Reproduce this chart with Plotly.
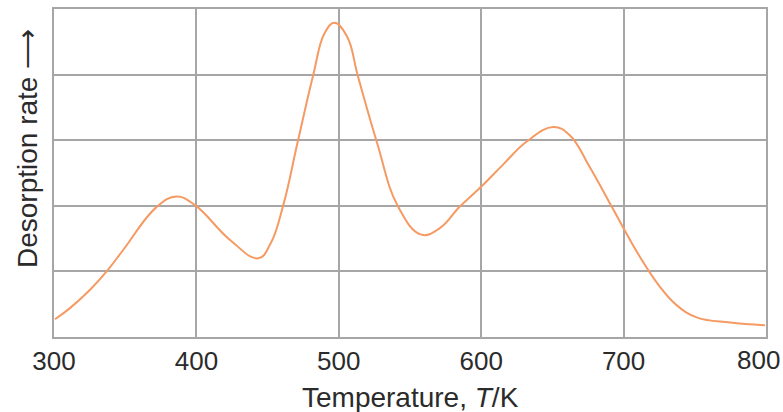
import plotly.graph_objects as go

temperature_K = [300.7, 311.2, 325.3, 337, 348.7, 372, 386, 399, 423.6, 443.5,
                 452, 461, 471, 482, 490, 497, 505.8, 513.5, 526.6, 541.6, 558, 571, 585, 599,
                 615, 632, 650.6, 662, 676, 691.6, 711.5, 725, 737, 751.3, 774.7, 799.3]
desorption_rate = [0.27, 0.44, 0.72, 1.0, 1.33, 1.98, 2.14, 2.01, 1.48, 1.2,
                   1.42, 2.01, 2.96, 3.99, 4.63, 4.79, 4.58, 3.97, 2.98, 1.99, 1.56, 1.66, 1.99, 2.27,
                   2.62, 2.98, 3.2, 3.08, 2.6, 1.99, 1.22, 0.78, 0.49, 0.3, 0.22, 0.18]
x_ticks = [300, 400, 500, 600, 700, 800]
x_tick_labels = ["300", "400", "500", "600", "700", ""]
y_grid = [0, 1, 2, 3, 4, 5]

text_color = "#2b2b2b"
grid_color = "#a6a6a6"
font_family = "Liberation Sans, Arial, sans-serif"

fig = go.Figure()
fig.add_trace(go.Scatter(
    x=temperature_K, y=desorption_rate, mode="lines",
    line=dict(color="#f59a62", width=2, shape="spline", smoothing=1.2),
    hoverinfo="skip", showlegend=False,
))

fig.update_layout(
    width=783, height=412,
    margin=dict(l=54, r=17, t=9, b=75, autoexpand=False),
    paper_bgcolor="white", plot_bgcolor="white",
    font=dict(family=font_family, color=text_color),
    xaxis=dict(
        range=[300, 800], tickvals=x_ticks, ticktext=x_tick_labels,
        showgrid=True, gridcolor=grid_color, gridwidth=2,
        showline=True, linecolor=grid_color, linewidth=2, mirror=True,
        zeroline=False, ticks="", tickfont=dict(size=26, color=text_color),
        automargin=False,
    ),
    yaxis=dict(
        range=[0, 5], tickvals=y_grid, showticklabels=False,
        showgrid=True, gridcolor=grid_color, gridwidth=2,
        showline=True, linecolor=grid_color, linewidth=2, mirror=True,
        zeroline=False, ticks="", automargin=False,
    ),
    annotations=[
        dict(
            text="Desorption rate ⟶", textangle=-90, showarrow=False,
            xref="paper", yref="paper", x=-0.038, y=0.576, xanchor="center", yanchor="middle",
            font=dict(size=28, color=text_color, family=font_family),
        ),
        dict(
            text="Temperature, <i>T</i>/K", showarrow=False,
            xref="paper", yref="paper", x=0.5, y=-0.183, xanchor="center", yanchor="middle",
            font=dict(size=28, color=text_color, family=font_family),
        ),
        dict(
            text=str(x_ticks[-1]), showarrow=False,
            xref="x", yref="paper", x=x_ticks[-1], y=-0.07, xanchor="right", yanchor="middle",
            xshift=15, borderpad=0,
            font=dict(size=26, color=text_color, family=font_family),
        ),
    ],
)

fig.write_html("out.html", config={"displayModeBar": False},
               post_script="document.body.style.margin='0';document.body.style.overflow='hidden';")
